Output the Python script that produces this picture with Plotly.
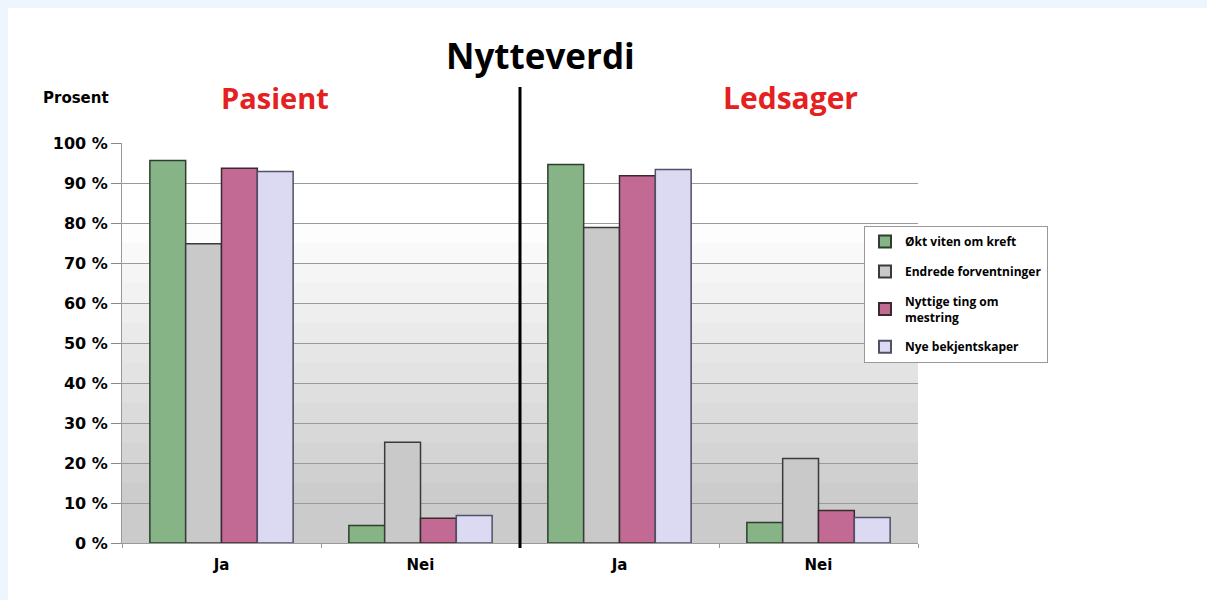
import plotly.graph_objects as go

# ---- data ----
groups = ["Pasient", "Ledsager"]
answers = ["Ja", "Nei", "Ja", "Nei"]
series_names = ["Økt viten om kreft", "Endrede forventninger",
                "Nyttige ting om<br>mestring", "Nye bekjentskaper"]
okt_viten = [95.6, 4.4, 94.6, 5.1]
endrede_forv = [74.8, 25.2, 78.9, 21.1]
nyttige_ting = [93.7, 6.2, 91.8, 8.1]
nye_bekj = [92.9, 6.9, 93.4, 6.4]
y_ticks = [0, 10, 20, 30, 40, 50, 60, 70, 80, 90, 100]
y_ticklabels = [f"{v} %" for v in y_ticks]

values = [okt_viten, endrede_forv, nyttige_ting, nye_bekj]
fills = ["#86b486", "#c9c9c9", "#c26a94", "#dcd9f3"]
lines = ["#2f3f2f", "#3a3a3a", "#3a2a30", "#505068"]

x_pos = list(range(len(answers)))

fig = go.Figure()
for i, (name, vals) in enumerate(zip(series_names, values)):
    fig.add_trace(go.Bar(
        x=x_pos, y=vals, name=name, legendgroup=str(i),
        marker=dict(color=fills[i], line=dict(color=lines[i], width=1.5)),
    ))

W, H = 1207, 600
L, T, PW, PH = 122, 143, 796, 400

def px_x(p):
    return (p - L) / PW

def px_y(p):
    return (T + PH - p) / PH

FRAME = "#eef5fc"
shapes = []
# light-blue frame strips on top and left
shapes.append(dict(type="rect", xref="paper", yref="paper", x0=px_x(-10), x1=px_x(W + 10),
                   y0=px_y(8), y1=px_y(-10), fillcolor=FRAME, line_width=0, layer="below"))
shapes.append(dict(type="rect", xref="paper", yref="paper", x0=px_x(-10), x1=px_x(8),
                   y0=px_y(H + 10), y1=px_y(-10), fillcolor=FRAME, line_width=0, layer="below"))
# plot-area gradient background
n = 20
for k in range(n):
    y0 = 100 * k / n
    y1 = 100 * (k + 1) / n
    t = 1 - (y0 + y1) / 2 / 100  # 0 top, 1 bottom
    if t < 0.2:
        g = 255
    else:
        g = int(255 - (255 - 203) * min(1, (t - 0.2) / 0.7))
    shapes.append(dict(type="rect", xref="paper", yref="y", x0=0, x1=1, y0=y0, y1=y1,
                       fillcolor=f"rgb({g},{g},{g})", line_width=0, layer="below"))
# divider line between groups
shapes.append(dict(type="line", xref="x", yref="paper", x0=1.5, x1=1.5, y0=px_y(548), y1=px_y(87),
                   line=dict(color="black", width=3)))

TF = "DejaVu Sans"
annotations = [
    dict(text="<b>Nytteverdi</b>", x=px_x(540), y=px_y(55), xref="paper", yref="paper",
         showarrow=False, font=dict(size=35, color="black", family="Open Sans"), xanchor="center", yanchor="middle"),
    dict(text="<b>Prosent</b>", x=px_x(76), y=px_y(98), xref="paper", yref="paper",
         showarrow=False, font=dict(size=15, color="black", family=TF), xanchor="center", yanchor="middle"),
    dict(text=f"<b>{groups[0]}</b>", x=px_x(275), y=px_y(97), xref="paper", yref="paper",
         showarrow=False, font=dict(size=29, color="#e42020", family="Open Sans"), xanchor="center", yanchor="middle"),
    dict(text=f"<b>{groups[1]}</b>", x=px_x(790), y=px_y(97), xref="paper", yref="paper",
         showarrow=False, font=dict(size=30, color="#e42020", family="Open Sans"), xanchor="center", yanchor="middle"),
]

fig.update_layout(
    width=W, height=H,
    margin=dict(l=L, r=W - L - PW, t=T, b=H - T - PH),
    paper_bgcolor="white",
    plot_bgcolor="rgba(0,0,0,0)",
    barmode="group", bargap=0.28, bargroupgap=0,
    showlegend=True,
    legend=dict(x=px_x(864), y=px_y(226), xanchor="left", yanchor="top",
                bgcolor="white", bordercolor="#999999", borderwidth=1,
                font=dict(size=12, color="black", family="Open Sans", weight="bold"),
                tracegroupgap=11, itemsizing="constant", itemwidth=30),
    shapes=shapes,
    annotations=annotations,
    font=dict(family=TF, color="black"),
)
fig.update_xaxes(
    range=[-0.5, 3.5], tickvals=x_pos, ticktext=[f"<b>{a}</b>" for a in answers],
    tickfont=dict(size=15, color="black", family=TF), ticks="", showgrid=False,
    ticklabelstandoff=8,
    showline=True, linecolor="#999999", linewidth=1,
    minor=dict(tick0=0.5, dtick=1, ticks="outside", ticklen=4, tickcolor="#999999", showgrid=False),
    zeroline=False,
)
fig.update_yaxes(
    range=[0, 100], tickvals=y_ticks, ticktext=[f"<b>{t}</b>" for t in y_ticklabels],
    tickfont=dict(size=16, color="black", family=TF), ticks="outside", ticklen=10, tickcolor="#888888",
    showgrid=True, gridcolor="#9a9a9a", gridwidth=1,
    showline=True, linecolor="#999999", linewidth=1, zeroline=False,
)
fig.write_html(
    "out.html",
    config={"displayModeBar": False},
    post_script="document.body.style.margin='0';document.body.style.overflow='hidden';"
                "document.documentElement.style.overflow='hidden';",
)
